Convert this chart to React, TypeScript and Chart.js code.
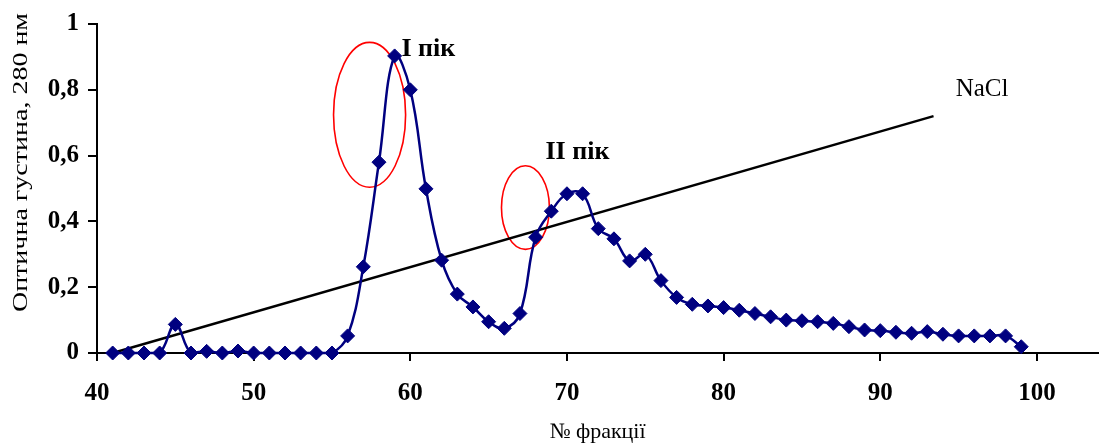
import { useEffect, useRef } from "react";
import { Chart, registerables } from "chart.js";

Chart.register(...registerables);

const fractions = [
  41, 42, 43, 44, 45, 46, 47, 48, 49, 50,
  51, 52, 53, 54, 55, 56, 57, 58, 59, 60,
  61, 62, 63, 64, 65, 66, 67, 68, 69, 70,
  71, 72, 73, 74, 75, 76, 77, 78, 79, 80,
  81, 82, 83, 84, 85, 86, 87, 88, 89, 90,
  91, 92, 93, 94, 95, 96, 97, 98, 99,
];
const absorbance = [
  0, 0, 0, 0, 0.087, 0, 0.005, 0, 0.006, 0,
  0, 0, 0, 0, 0, 0.052, 0.262, 0.58, 0.903, 0.8,
  0.499, 0.282, 0.179, 0.14, 0.095, 0.075, 0.12, 0.352, 0.431, 0.484,
  0.484, 0.378, 0.347, 0.28, 0.3, 0.22, 0.169, 0.148, 0.143, 0.138,
  0.13, 0.12, 0.11, 0.1, 0.098, 0.095, 0.09, 0.08, 0.07, 0.068,
  0.063, 0.06, 0.065, 0.057, 0.052, 0.052, 0.052, 0.052, 0.019,
];
const naclFractions = [41, 93.4];
const naclLevel = [0, 0.72];

const xTickValues = [40, 50, 60, 70, 80, 90, 100];
const yTickValues = [0, 0.2, 0.4, 0.6, 0.8, 1];

const xTitle = "№ фракції";
const yTitle = "Оптична густина, 280 нм";

const labelTexts = ["I пік", "II пік", "NaCl"];
const labelX = [61.15, 70.67, 96.5];
const labelY = [0.924, 0.609, 0.8];

const ellipseCx = [57.4, 67.35];
const ellipseCy = [0.724, 0.442];
const ellipseRx = [2.3, 1.53];
const ellipseRy = [0.22, 0.127];

const SERIF = "'Liberation Serif', 'Times New Roman', serif";

const ellipsePlugin = {
  id: "ellipses",
  beforeDatasetsDraw(chart: any) {
    const { ctx, scales } = chart;
    const x = scales.x;
    const y = scales.y;
    ctx.save();
    ctx.strokeStyle = "#ff0000";
    ctx.lineWidth = 1.6;
    for (let i = 0; i < ellipseCx.length; i++) {
      const cx = x.getPixelForValue(ellipseCx[i]);
      const cy = y.getPixelForValue(ellipseCy[i]);
      const rx = Math.abs(x.getPixelForValue(ellipseCx[i] + ellipseRx[i]) - cx);
      const ry = Math.abs(y.getPixelForValue(ellipseCy[i] + ellipseRy[i]) - cy);
      ctx.beginPath();
      ctx.ellipse(cx, cy, rx, ry, 0, 0, Math.PI * 2);
      ctx.stroke();
    }
    ctx.restore();
  },
  afterDatasetsDraw(chart: any) {
    const { ctx, scales } = chart;
    const x = scales.x;
    const y = scales.y;
    ctx.save();
    ctx.fillStyle = "#000000";
    ctx.textAlign = "center";
    ctx.textBaseline = "middle";
    for (let i = 0; i < labelTexts.length; i++) {
      const bold = i < 2;
      ctx.font = bold ? `bold 26px ${SERIF}` : `25px ${SERIF}`;
      ctx.fillText(labelTexts[i], x.getPixelForValue(labelX[i]), y.getPixelForValue(labelY[i]));
    }
    ctx.restore();
  },
  afterDraw(chart: any) {
    const { ctx, scales } = chart;
    const y = scales.y;
    const cy = (y.getPixelForValue(0) + y.getPixelForValue(1)) / 2 - 26;
    ctx.save();
    ctx.fillStyle = "#000000";
    ctx.font = `20px ${SERIF}`;
    ctx.textAlign = "center";
    ctx.textBaseline = "middle";
    ctx.translate(22, cy);
    ctx.rotate(-Math.PI / 2);
    ctx.scale(1.4, 1);
    ctx.fillText(yTitle, 0, 0);
    ctx.restore();
  },
};

export default function App() {
  const canvasRef = useRef<HTMLCanvasElement | null>(null);

  useEffect(() => {
    const canvas = canvasRef.current;
    if (!canvas) return;
    const chart = new Chart(canvas, {
      type: "line",
      data: {
        datasets: [
          {
            label: "A280",
            data: fractions.map((f, i) => ({ x: f, y: absorbance[i] })),
            borderColor: "#000080",
            backgroundColor: "#000080",
            borderWidth: 2.5,
            pointStyle: "rectRot",
            pointRadius: 7,
            pointBorderWidth: 1,
            pointBackgroundColor: "#000080",
            pointBorderColor: "#000080",
            tension: 0.4,
            clip: false,
            order: 0,
          },
          {
            label: "NaCl",
            data: naclFractions.map((f, i) => ({ x: f, y: naclLevel[i] })),
            borderColor: "#000000",
            borderWidth: 2.5,
            pointRadius: 0,
            tension: 0,
            clip: false,
            order: 1,
          },
        ],
      },
      options: {
        animation: false,
        responsive: true,
        maintainAspectRatio: false,
        layout: { padding: { top: 23, right: 0, left: 0, bottom: 0 } },
        plugins: {
          legend: { display: false },
          tooltip: { enabled: false },
        },
        scales: {
          x: {
            type: "linear",
            min: 40,
            max: 103.9,
            afterBuildTicks: (scale: any) => {
              scale.ticks = xTickValues.map((v) => ({ value: v }));
            },
            afterFit: (scale: any) => {
              scale.height = 93;
            },
            border: { display: true, color: "#000000", width: 2 },
            grid: {
              drawOnChartArea: false,
              drawTicks: true,
              tickLength: 8,
              color: "#000000",
              lineWidth: 2,
            },
            ticks: {
              color: "#000000",
              font: { family: SERIF, size: 25, weight: "bold" },
              padding: 18,
              maxRotation: 0,
              autoSkip: false,
            },
            title: {
              display: true,
              text: xTitle,
              color: "#000000",
              font: { family: SERIF, size: 22 },
              padding: { top: 0, bottom: 1 },
            },
          },
          y: {
            type: "linear",
            min: 0,
            max: 1,
            afterBuildTicks: (scale: any) => {
              scale.ticks = yTickValues.map((v) => ({ value: v }));
            },
            afterFit: (scale: any) => {
              scale.width = 97;
            },
            border: { display: true, color: "#000000", width: 2 },
            grid: {
              drawOnChartArea: false,
              drawTicks: true,
              tickLength: 9,
              color: "#000000",
              lineWidth: 2,
            },
            ticks: {
              color: "#000000",
              font: { family: SERIF, size: 25, weight: "bold" },
              padding: 9,
              callback: (v: any) => {
                const n = Number(v);
                if (n === 0) return "0";
                if (n === 1) return "1";
                return n.toFixed(1).replace(".", ",");
              },
            },
            title: { display: false },
          },
        },
      },
      plugins: [ellipsePlugin],
    } as any);
    return () => chart.destroy();
  }, []);

  return (
    <div style={{ position: "absolute", left: 0, top: 0, width: 1106, height: 446, background: "#fff" }}>
      <canvas ref={canvasRef} />
    </div>
  );
}
